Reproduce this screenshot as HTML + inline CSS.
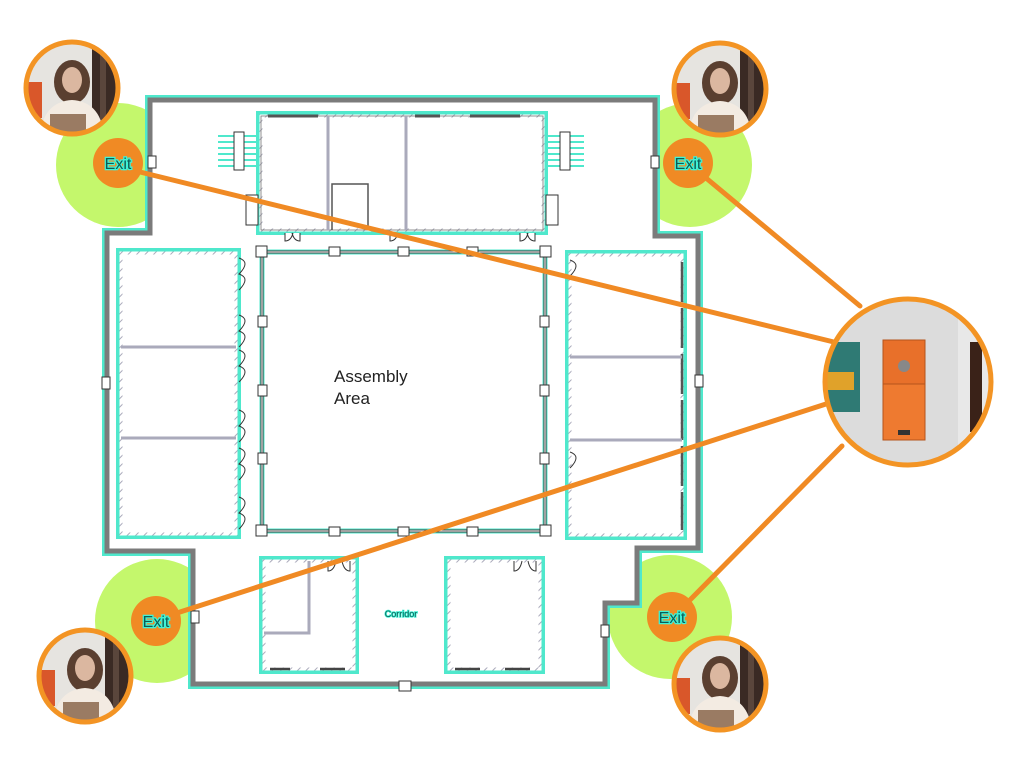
<!DOCTYPE html>
<html><head><meta charset="utf-8"><style>
html,body{margin:0;padding:0;background:#fff;}
svg{display:block;font-family:"Liberation Sans",sans-serif;}
</style></head><body>
<svg width="1024" height="774" viewBox="0 0 1024 774" xmlns="http://www.w3.org/2000/svg">
<defs>
<pattern id="hatch" width="6" height="6" patternUnits="userSpaceOnUse" patternTransform="rotate(45)">
<rect width="6" height="6" fill="#fff"/><line x1="0" y1="0" x2="0" y2="6" stroke="#aab" stroke-width="2"/></pattern>
<clipPath id="pc"><circle cx="0" cy="0" r="46"/></clipPath>
<clipPath id="bc"><circle cx="0" cy="0" r="83"/></clipPath>
<g id="person">
<g clip-path="url(#pc)">
<rect x="-50" y="-50" width="100" height="100" fill="#e6e4e0"/>
<rect x="20" y="-50" width="30" height="100" fill="#3a2a24"/>
<rect x="28" y="-50" width="6" height="100" fill="#5a463c"/>
<rect x="-44" y="-6" width="14" height="36" fill="#d9572a"/>
<ellipse cx="0" cy="-6" rx="18" ry="22" fill="#5a3f30"/>
<ellipse cx="0" cy="-8" rx="10" ry="13" fill="#dbb7a0"/>
<path d="M-32 50 Q-30 14 0 12 Q30 14 32 50 Z" fill="#f3ebe2"/>
<rect x="-22" y="26" width="36" height="20" fill="#9a7b63"/>
</g>
<circle cx="0" cy="0" r="46" fill="none" stroke="#f39424" stroke-width="5"/>
</g>
<g id="exit">
<circle cx="0" cy="0" r="25" fill="#f08a24"/>
<text x="0" y="6" text-anchor="middle" font-size="16" fill="#0d5b55" stroke="#3ff3d5" stroke-width="2.5" paint-order="stroke">Exit</text>
</g>
</defs>

<circle cx="118" cy="165" r="62" fill="#c4f76c"/>
<circle cx="690" cy="165" r="62" fill="#c4f76c"/>
<circle cx="157" cy="621" r="62" fill="#c4f76c"/>
<circle cx="670" cy="617" r="62" fill="#c4f76c"/>

<path d="M150 100 H655 V236 H698 V548 H637 V603 H605 V684 H193 V551 H107 V233 H150 Z" fill="#fff" stroke="#4fe8cc" stroke-width="10" stroke-linejoin="miter"/>
<path d="M150 100 H655 V236 H698 V548 H637 V603 H605 V684 H193 V551 H107 V233 H150 Z" fill="#fff" stroke="#7b7b7b" stroke-width="5"/>
<g fill="#fff" stroke="#333" stroke-width="1">
<rect x="148" y="156" width="8" height="12"/><rect x="651" y="156" width="8" height="12"/>
<rect x="102" y="377" width="8" height="12"/><rect x="695" y="375" width="8" height="12"/>
<rect x="191" y="611" width="8" height="12"/><rect x="601" y="625" width="8" height="12"/>
<rect x="399" y="681" width="12" height="10"/>
</g>

<rect x="258" y="113" width="288" height="120" fill="#fff" stroke="#4fe8cc" stroke-width="4"/>
<rect x="261" y="116" width="282" height="114" fill="none" stroke="url(#hatch)" stroke-width="3"/>
<rect x="261" y="116" width="282" height="114" fill="none" stroke="#777" stroke-width="0.8"/>
<line x1="328" y1="116" x2="328" y2="230" stroke="#aab" stroke-width="3"/>
<line x1="406" y1="116" x2="406" y2="230" stroke="#aab" stroke-width="3"/>
<path d="M332 230 V184 H368 V230" fill="none" stroke="#555" stroke-width="1.5"/>
<g stroke="#555" stroke-width="3"><line x1="268" y1="116" x2="318" y2="116"/><line x1="415" y1="116" x2="440" y2="116"/><line x1="470" y1="116" x2="520" y2="116"/></g>
<g stroke="#4fe8cc" stroke-width="2">
<line x1="218" y1="136" x2="258" y2="136"/><line x1="218" y1="142" x2="258" y2="142"/><line x1="218" y1="148" x2="258" y2="148"/><line x1="218" y1="154" x2="258" y2="154"/><line x1="218" y1="160" x2="258" y2="160"/><line x1="218" y1="166" x2="258" y2="166"/>
<line x1="546" y1="136" x2="584" y2="136"/><line x1="546" y1="142" x2="584" y2="142"/><line x1="546" y1="148" x2="584" y2="148"/><line x1="546" y1="154" x2="584" y2="154"/><line x1="546" y1="160" x2="584" y2="160"/><line x1="546" y1="166" x2="584" y2="166"/>
</g>
<rect x="234" y="132" width="10" height="38" fill="#fff" stroke="#333"/>
<rect x="560" y="132" width="10" height="38" fill="#fff" stroke="#333"/>
<g fill="#fff" stroke="#333" stroke-width="1">
<rect x="246" y="195" width="12" height="30"/><rect x="546" y="195" width="12" height="30"/>
<path d="M285 233 v8 q6 0 8 -8 M300 233 v8 q-6 0 -8 -8"/><path d="M390 233 v8 q6 0 8 -8"/><path d="M520 233 v8 q6 0 8 -8 M535 233 v8 q-6 0 -8 -8"/>
</g>

<rect x="118" y="250" width="121" height="287" fill="#fff" stroke="#4fe8cc" stroke-width="4"/>
<rect x="121" y="253" width="115" height="281" fill="none" stroke="url(#hatch)" stroke-width="3"/>
<line x1="121" y1="347" x2="236" y2="347" stroke="#aab" stroke-width="3"/>
<line x1="121" y1="438" x2="236" y2="438" stroke="#aab" stroke-width="3"/>
<g fill="none" stroke="#333" stroke-width="1">
<path d="M239 258 q12 4 0 16 q12 4 0 16"/><path d="M239 315 q12 4 0 16 q12 4 0 16"/><path d="M239 350 q12 4 0 16 q12 4 0 16"/><path d="M239 410 q12 4 0 16 q12 4 0 16"/><path d="M239 448 q12 4 0 16 q12 4 0 16"/><path d="M239 497 q12 4 0 16 q12 4 0 16"/>
</g>

<rect x="567" y="252" width="118" height="286" fill="#fff" stroke="#4fe8cc" stroke-width="4"/>
<rect x="570" y="255" width="112" height="280" fill="none" stroke="url(#hatch)" stroke-width="3"/>
<line x1="682" y1="262" x2="682" y2="530" stroke="#555" stroke-width="2.5" stroke-dasharray="40 6"/>
<line x1="570" y1="357" x2="682" y2="357" stroke="#aab" stroke-width="3"/>
<line x1="570" y1="440" x2="682" y2="440" stroke="#aab" stroke-width="3"/>
<g fill="none" stroke="#333" stroke-width="1">
<path d="M570 260 q12 4 0 16"/><path d="M570 452 q12 4 0 16"/>
</g>

<rect x="262" y="252" width="283" height="279" fill="#fff" stroke="#4fe8cc" stroke-width="5"/>
<rect x="262" y="252" width="283" height="279" fill="none" stroke="#444" stroke-width="3"/>
<rect x="262" y="252" width="283" height="279" fill="none" stroke="#fff" stroke-width="1"/>
<g fill="#fff" stroke="#333" stroke-width="1">
<rect x="256" y="246" width="11" height="11"/><rect x="540" y="246" width="11" height="11"/><rect x="256" y="525" width="11" height="11"/><rect x="540" y="525" width="11" height="11"/>
<rect x="329" y="247" width="11" height="9"/><rect x="398" y="247" width="11" height="9"/><rect x="467" y="247" width="11" height="9"/>
<rect x="329" y="527" width="11" height="9"/><rect x="398" y="527" width="11" height="9"/><rect x="467" y="527" width="11" height="9"/>
<rect x="258" y="316" width="9" height="11"/><rect x="258" y="385" width="9" height="11"/><rect x="258" y="453" width="9" height="11"/>
<rect x="540" y="316" width="9" height="11"/><rect x="540" y="385" width="9" height="11"/><rect x="540" y="453" width="9" height="11"/>
</g>
<text x="334" y="382" font-size="17" fill="#222">Assembly</text>
<text x="334" y="404" font-size="17" fill="#222">Area</text>

<rect x="261" y="558" width="96" height="114" fill="#fff" stroke="#4fe8cc" stroke-width="4"/>
<rect x="264" y="561" width="90" height="108" fill="none" stroke="url(#hatch)" stroke-width="3"/>
<path d="M264 633 H309 V561" fill="none" stroke="#aab" stroke-width="3"/>
<rect x="446" y="558" width="97" height="114" fill="#fff" stroke="#4fe8cc" stroke-width="4"/>
<rect x="449" y="561" width="91" height="108" fill="none" stroke="url(#hatch)" stroke-width="3"/>
<g stroke="#444" stroke-width="2.5"><line x1="270" y1="669" x2="290" y2="669"/><line x1="320" y1="669" x2="345" y2="669"/><line x1="455" y1="669" x2="480" y2="669"/><line x1="505" y1="669" x2="530" y2="669"/></g>
<g fill="none" stroke="#333" stroke-width="1"><path d="M328 561 v10 q6 0 8 -10 M350 561 v10 q-6 0 -8 -10"/><path d="M514 561 v10 q6 0 8 -10 M536 561 v10 q-6 0 -8 -10"/></g>
<text x="401" y="617" text-anchor="middle" font-size="9" fill="#0d5b55" stroke="#3ff3d5" stroke-width="1.5" paint-order="stroke">Corridor</text>

<g stroke="#f08a24" stroke-width="5" stroke-linecap="round">
<line x1="140" y1="172" x2="842" y2="344"/>
<line x1="706" y1="178" x2="860" y2="306"/>
<line x1="180" y1="612" x2="826" y2="404"/>
<line x1="688" y1="602" x2="842" y2="446"/>
</g>

<use href="#person" x="72" y="88"/>
<use href="#person" x="720" y="89"/>
<use href="#person" x="85" y="676"/>
<use href="#person" x="720" y="684"/>

<use href="#exit" x="118" y="163"/>
<use href="#exit" x="688" y="163"/>
<use href="#exit" x="156" y="621"/>
<use href="#exit" x="672" y="617"/>

<g transform="translate(908,382)">
<g clip-path="url(#bc)">
<rect x="-90" y="-90" width="180" height="180" fill="#dcdcdc"/>
<rect x="50" y="-90" width="40" height="180" fill="#e8e8e8"/>
<rect x="62" y="-40" width="12" height="90" fill="#3a2218"/>
<rect x="-88" y="-40" width="40" height="70" fill="#2f7a74"/>
<rect x="-82" y="-10" width="28" height="18" fill="#e0a22a"/>
<rect x="-25" y="-42" width="42" height="44" fill="#e8702a" stroke="#b5541c"/>
<circle cx="-4" cy="-16" r="6" fill="#888"/>
<rect x="-25" y="2" width="42" height="56" fill="#ee7a30" stroke="#b5541c"/>
<rect x="-10" y="48" width="12" height="5" fill="#333"/>
</g>
<circle cx="0" cy="0" r="83" fill="none" stroke="#f39424" stroke-width="5"/>
</g>
</svg>
</body></html>
